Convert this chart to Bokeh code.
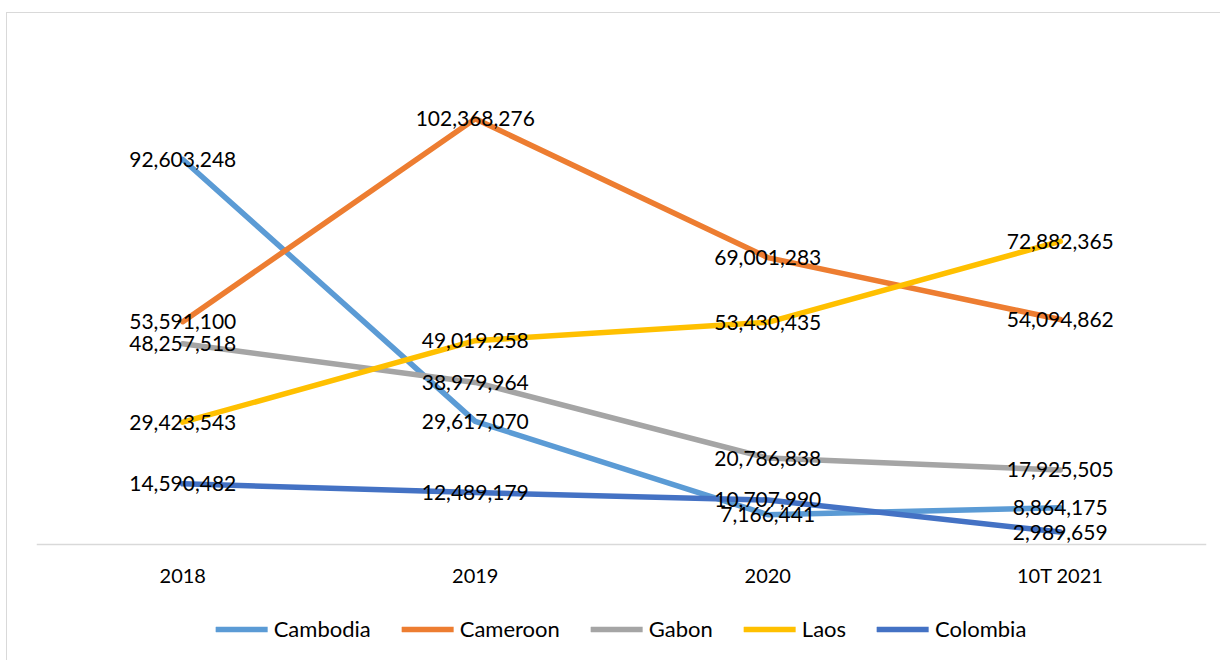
from bokeh.plotting import figure
from bokeh.models import Range1d, FactorRange, ColumnDataSource, Legend, LegendItem
from bokeh.core.properties import value
from bokeh.embed import file_html
from bokeh.resources import INLINE

categories = ["2018", "2019", "2020", "10T 2021"]
cambodia = [92603248, 29617070, 7166441, 8864175]
cameroon = [53591100, 102368276, 69001283, 54094862]
gabon = [48257518, 38979964, 20786838, 17925505]
laos = [29423543, 49019258, 53430435, 72882365]
colombia = [14590482, 12489179, 10707990, 2989659]
series_names = ["Cambodia", "Cameroon", "Gabon", "Laos", "Colombia"]
series_values = [cambodia, cameroon, gabon, laos, colombia]
colors = ["#5B9BD5", "#ED7D31", "#A5A5A5", "#FFC000", "#4472C4"]

FONT = "Lato"

# layout (pixels inside the figure canvas)
W, H = 1214, 648
TOP = 32          # frame top
ZERO = 531        # where value 0 sits
Y_MAX = 120_000_000
y_start = -Y_MAX * (H - ZERO) / (ZERO - TOP)

p = figure(
    x_range=FactorRange(factors=categories),
    y_range=Range1d(y_start, Y_MAX),
    width=W, height=H,
    output_backend="svg", toolbar_location=None,
    y_axis_location=None,
    min_border_left=29, min_border_right=15,
    min_border_top=TOP, min_border_bottom=0,
)
p.styles = {
    "margin-left": "6px", "margin-top": "12px",
    "border-left": "1.5px solid #d9d9d9", "border-top": "1.5px solid #d9d9d9",
}
p.outline_line_color = None
p.xgrid.visible = False
p.ygrid.visible = False
p.background_fill_color = "white"
p.border_fill_color = "white"

ax = p.xaxis[0]
ax.fixed_location = 0
ax.axis_line_color = "#d9d9d9"
ax.axis_line_width = 1.5
ax.major_tick_line_color = None
ax.minor_tick_line_color = None
ax.major_label_text_font = FONT
ax.major_label_text_font_size = "20px"
ax.major_label_text_color = "#000000"
ax.major_label_standoff = 12

items = []
for name, vals, col in zip(series_names, series_values, colors):
    src = ColumnDataSource(dict(x=categories, y=vals))
    r = p.line("x", "y", source=src, line_color=col, line_width=5.5,
               line_cap="round", line_join="round")
    items.append(LegendItem(label=name, renderers=[r]))

for vals in series_values:
    src = ColumnDataSource(dict(x=categories, y=vals, t=[f"{v:,}" for v in vals]))
    p.text("x", "y", text="t", source=src, text_align="center",
           text_baseline="middle", text_font=value(FONT),
           text_font_size=value("21px"), text_color="#000000")

legend = Legend(items=items, orientation="horizontal", location="bottom_center",
                glyph_width=52, label_standoff=6, spacing=31,
                padding=0, margin=19, border_line_color=None,
                background_fill_alpha=0, label_text_font=FONT,
                label_text_font_size="22px", label_text_color="#000000")
p.add_layout(legend, "center")

open("out.html", "w").write(file_html(p, INLINE))
